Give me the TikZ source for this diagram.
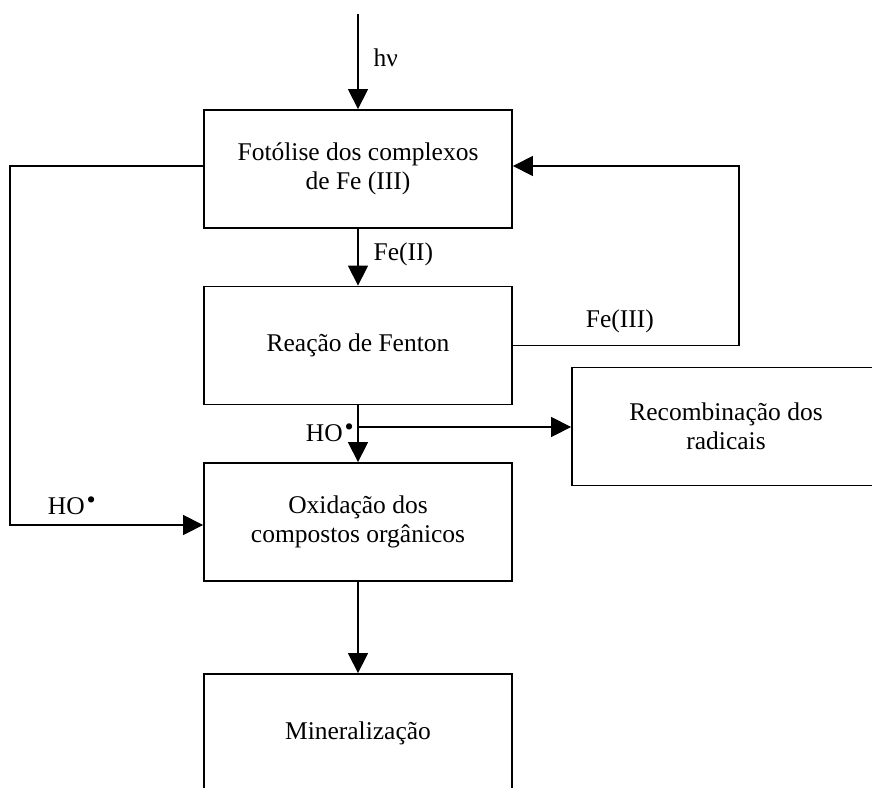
\documentclass[tikz,border=0pt]{standalone}
\usepackage{fontspec}
\setmainfont{Liberation Serif}
\usetikzlibrary{positioning,arrows.meta}
\definecolor{cEdge}{RGB}{0,0,0}
\newcommand{\hoDot}{\hspace{2pt}\raisebox{6pt}{\fontsize{26}{26}\selectfont\textbullet}}
\tikzset{
  stage/.style={
    rectangle, draw=cEdge, line width=1.8pt,
    align=center, text=cEdge, font=\fontsize{25.5}{29}\selectfont,
    minimum width=308pt, minimum height=118pt, inner sep=0pt,
  },
  lab/.style={font=\fontsize{25.5}{29}\selectfont, text=cEdge, inner sep=3pt},
  arr/.style={-{Triangle[length=20pt,width=20pt]}, line width=1.3pt, draw=cEdge},
}

\begin{document}
\begin{tikzpicture}[x=1pt, y=-1pt]

% ===== frame =====
\useasboundingbox (0,0) rectangle (872,787);
\clip (0,0) rectangle (872,787);

% ===== grid coordinates =====
\def\colC{358}    % main column x
\def\colR{726}    % right column x
\def\rowA{169}    % photolysis
\def\rowB{345.5}  % Fenton
\def\rowC{522}    % oxidation
\def\rowD{733}    % mineralization

% ===== main column =====
\node[stage] (foto) at (\colC,\rowA) {Fotólise dos complexos\\de Fe (III)};
\node[stage] (fenton) at (\colC,\rowB) {Reação de Fenton};
\node[stage] (oxid) at (\colC,\rowC) {Oxidação dos\\compostos orgânicos};
\node[stage] (miner) at (\colC,\rowD) {Mineralização};

% ===== right column =====
\node[stage] (recomb) at (\colR,426.5) {Recombinação dos\\radicais};

% light source
\coordinate (luz) at (\colC,14);

% ===== arrows =====
\draw[arr] (luz) -- node[lab, right=12pt, yshift=4pt]{hν} (foto.north);
\draw[arr] (foto.south) -- node[lab, right=12pt, yshift=3pt]{Fe(II)} (fenton.north);
\draw[arr] (fenton.south) -- (oxid.north);
\draw[arr] (oxid.south) -- (miner.north);

% Fe(III) back to photolysis
\draw[arr] (fenton.east) -- node[lab, above=9pt, xshift=-6pt]{Fe(III)} ++(226,0)
  |- ([yshift=3pt]foto.east);

% HO radical branches
\coordinate (hoSplit) at (\colC,427);
\node[lab, left=1pt, yshift=-6pt] at (hoSplit) {HO\hoDot};
\draw[arr] (hoSplit) -- (recomb.west |- hoSplit);
\draw[arr] ([yshift=3pt]foto.west) -- ++(-193,0)
  |- node[lab, pos=0.66, above=7pt]{HO\hoDot} ([yshift=-3pt]oxid.west);

\end{tikzpicture}
\end{document}
